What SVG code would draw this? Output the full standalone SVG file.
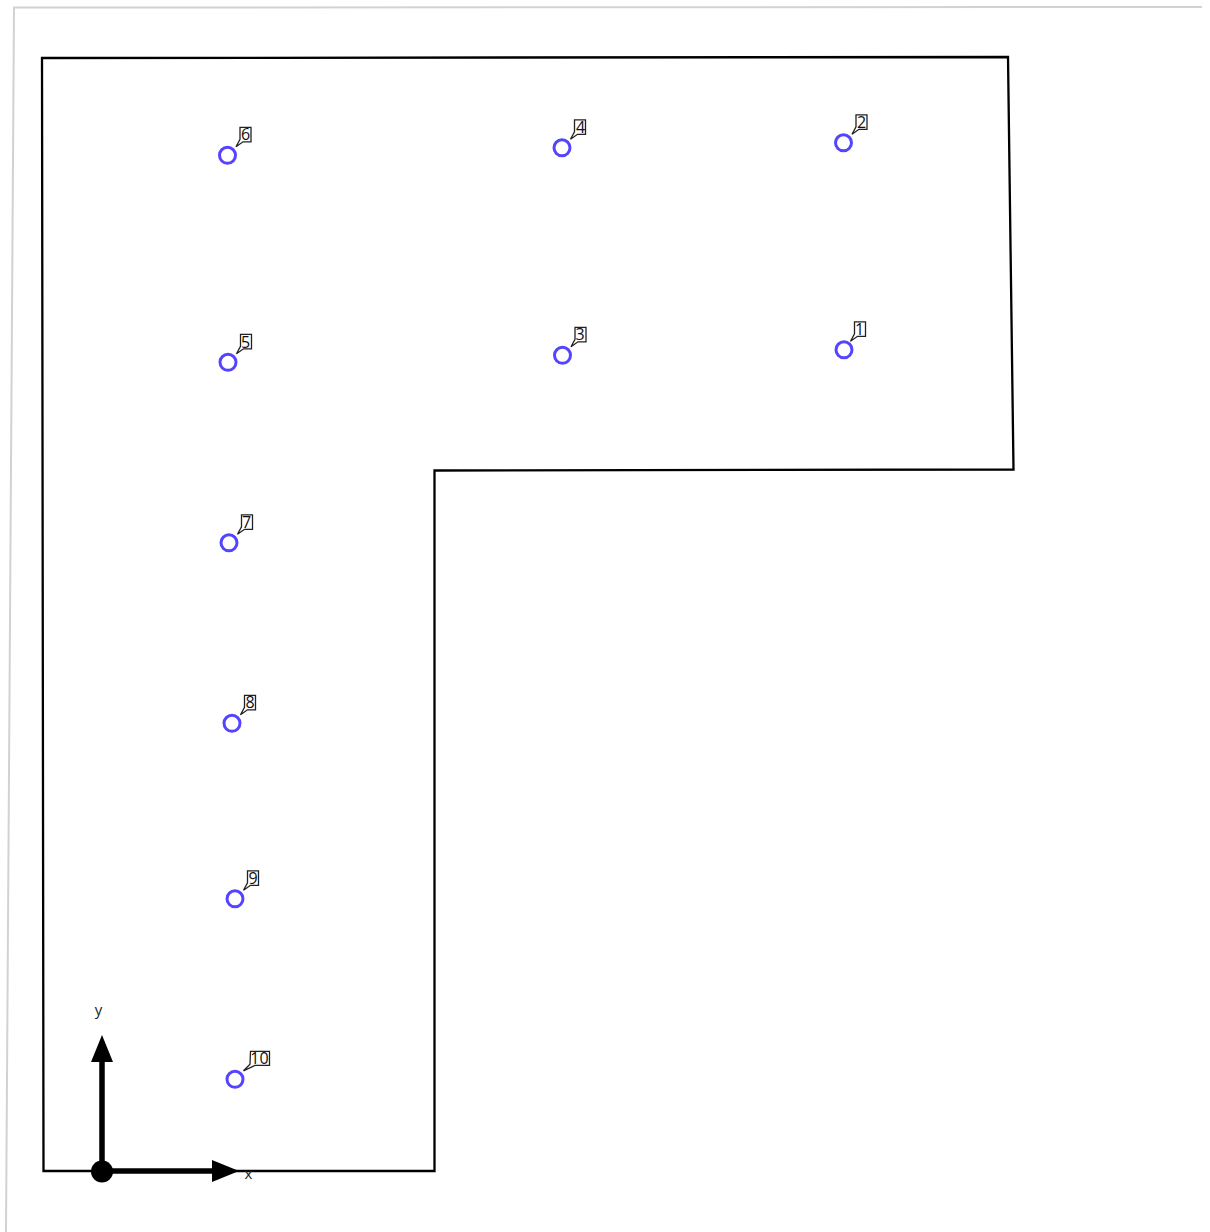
<svg xmlns="http://www.w3.org/2000/svg" width="1210" height="1232" viewBox="0 0 1210 1232">
<style>
.pt{fill:none;stroke:#5544ff;stroke-width:3}
.call{fill:#fff;stroke:#222;stroke-width:1.300}
.lb{font-family:"Open Sans",sans-serif;font-size:16px;fill:#111;text-anchor:middle}
.ax{font-family:"Open Sans",sans-serif;font-size:15px;fill:#222;text-anchor:middle}
</style>
<defs>
<path id="c1" class="call" d="M12.500-28H23.500V-13.500H15.500L8.500-8.500L12.500-16Z"/>
</defs>
<rect width="1210" height="1232" fill="#fff"/>
<path d="M6 1232L14 7.500L1202 7" fill="none" stroke="#d2d2d2" stroke-width="2"/>
<path id="outline" d="M42 58L1008 57L1013.500 469.500L434.500 470.500V1171H43.500Z" fill="none" stroke="#000" stroke-width="2.300"/>
<g id="n1" transform="translate(844,349.800)"><circle class="pt" r="8"/><use href="#c1" x="-2"/><text class="lb" x="15.500" y="-14.800">1</text></g>
<g id="n2" transform="translate(843.500,142.800)"><circle class="pt" r="8"/><use href="#c1"/><text class="lb" x="18" y="-15">2</text></g>
<g id="n3" transform="translate(562.500,355.300)"><circle class="pt" r="8"/><use href="#c1"/><text class="lb" x="17.500" y="-15.300">3</text></g>
<g id="n4" transform="translate(562,147.800)"><circle class="pt" r="8"/><use href="#c1"/><text class="lb" x="18.500" y="-15">4</text></g>
<g id="n5" transform="translate(228,362.300)"><circle class="pt" r="8"/><use href="#c1"/><text class="lb" x="17.500" y="-14.800">5</text></g>
<g id="n6" transform="translate(227.500,155.300)"><circle class="pt" r="8"/><use href="#c1"/><text class="lb" x="18" y="-15.300">6</text></g>
<g id="n7" transform="translate(229,542.800)"><circle class="pt" r="8"/><use href="#c1"/><text class="lb" x="17.500" y="-15.300">7</text></g>
<g id="n8" transform="translate(232,723.300)"><circle class="pt" r="8"/><use href="#c1"/><text class="lb" x="18" y="-15.300">8</text></g>
<g id="n9" transform="translate(235,898.800)"><circle class="pt" r="8"/><use href="#c1"/><text class="lb" x="18" y="-15.300">9</text></g>
<g id="n10" transform="translate(235,1079.300)"><circle class="pt" r="8"/><path class="call" d="M15.500-28H34.500V-14H20L8.500-8.500L15-15Z"/><text class="lb" x="24.500" y="-15.300">10</text></g>
<g id="connectors">
<path d="M102 1171V1060M102 1171H214" fill="none" stroke="#000" stroke-width="5.500"/>
<path d="M102 1035L113 1062H91Z"/>
<path d="M239 1171L212 1160V1182Z"/>
<circle cx="102" cy="1171.500" r="11"/>
</g>
<text class="ax" x="98.500" y="1015">y</text>
<text class="ax" x="248.500" y="1179">x</text>
</svg>
